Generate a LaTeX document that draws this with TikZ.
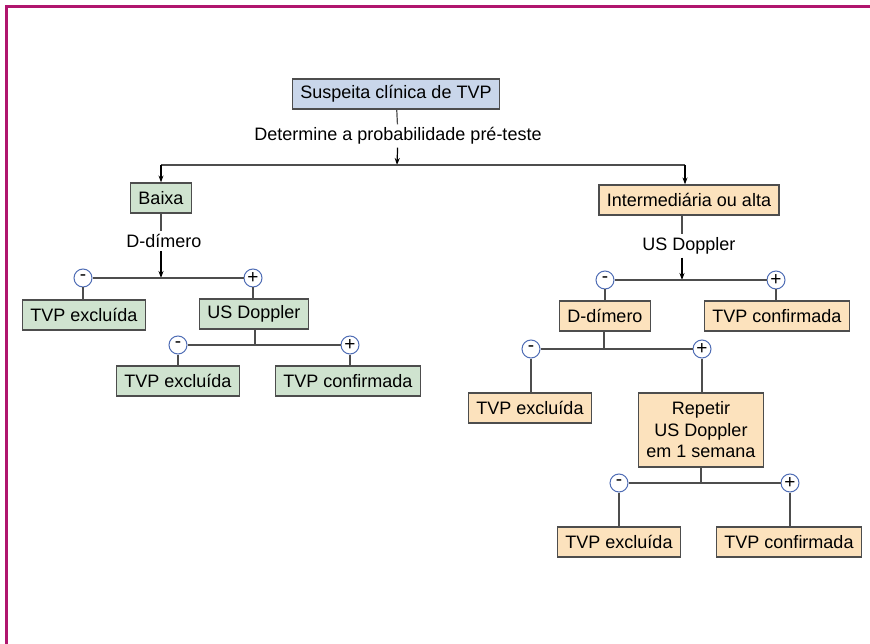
\documentclass[tikz,border=0pt]{standalone}
\usepackage{fontspec}
\setmainfont{Liberation Sans}
\usetikzlibrary{arrows.meta}

\definecolor{frameline}{HTML}{B0166E}
\definecolor{boxline}{HTML}{4D4D4D}
\definecolor{boxblue}{HTML}{C9D6EA}
\definecolor{boxgreen}{HTML}{CFE3CF}
\definecolor{boxpeach}{HTML}{FCE2BD}
\definecolor{signline}{HTML}{4F6DB5}

\tikzset{
  stepbox/.style={draw=boxline, line width=1.2pt, inner xsep=8pt, inner ysep=0pt,
    minimum height=30pt, align=center, font=\fontsize{18}{21.5}\selectfont},
  lowbox/.style={stepbox, fill=boxgreen},
  highbox/.style={stepbox, fill=boxpeach},
  testlabel/.style={inner sep=3pt, font=\fontsize{18}{21.5}\selectfont},
  sign/.style={circle, draw=signline, fill=white, line width=1pt, minimum size=18pt,
    inner sep=0pt, font=\fontsize{19}{19}\selectfont},
  link/.style={draw=boxline, line width=1.2pt},
  down/.style={link, -{Stealth[length=7pt,width=5pt]}, draw=black}
}

\begin{document}
\begin{tikzpicture}[x=1pt, y=-1pt]
\useasboundingbox (0,0) rectangle (870,644);
\draw[frameline, line width=3pt] (6,644) -- (6,7) -- (870,7);

% start
\node[stepbox, fill=boxblue] (suspeita) at (396,94) {Suspeita clínica de TVP};
\node[testlabel] (prob) at (398,136) {Determine a probabilidade pré-teste};
\coordinate (j0) at (397,165);
\coordinate (tl) at (161,165);
\coordinate (tr) at (685,165);
\draw[link] (suspeita) -- (prob);
\draw[down] (prob) -- (j0);
\draw[link] (tl) -- (tr);

% low probability
\node[lowbox] (baixa) at (161,198) {Baixa};
\draw[down] (tl) -- (baixa);
\node[testlabel] (ddimA) at (164,241) {D-dímero};
\coordinate (j1) at (161,278);
\draw[link] (baixa.south -| j1) -- (ddimA.north -| j1);
\draw[down] (ddimA.south -| j1) -- (j1);
\node[sign] (m1) at (83,278) {-};
\node[sign] (p1) at (253,278) {+};
\draw[link] (m1) -- (p1);
\node[lowbox] (excA) at (84,315) {TVP excluída};
\node[lowbox] (usA) at (254,314) {US Doppler};
\draw[link] (m1) -- (m1 |- excA.north);
\draw[link] (p1) -- (p1 |- usA.north);
\coordinate (j2) at (255,345);
\node[sign] (m2) at (178,345) {-};
\node[sign] (p2) at (350,345) {+};
\draw[link] (m2) -- (p2);
\draw[link] (usA.south -| j2) -- (j2);
\node[lowbox] (excB) at (178,381) {TVP excluída};
\node[lowbox] (confB) at (348,381) {TVP confirmada};
\draw[link] (m2) -- (m2 |- excB.north);
\draw[link] (p2) -- (p2 |- confB.north);

% intermediate or high probability
\node[highbox] (inter) at (689,200) {Intermediária ou alta};
\draw[down] (tr) -- (tr |- inter.north);
\node[testlabel] (usLabel) at (689,246) {US Doppler};
\coordinate (j3) at (682,280);
\draw[link] (inter.south -| j3) -- (usLabel.north -| j3);
\draw[down] (usLabel.south -| j3) -- (j3);
\node[sign] (m3) at (605,280) {-};
\node[sign] (p3) at (776,280) {+};
\draw[link] (m3) -- (p3);
\node[highbox] (ddimB) at (605,316) {D-dímero};
\node[highbox] (confC) at (777,316) {TVP confirmada};
\draw[link] (m3) -- (m3 |- ddimB.north);
\draw[link] (p3) -- (p3 |- confC.north);
\coordinate (j4) at (604,349);
\node[sign] (m4) at (531,349) {-};
\node[sign] (p4) at (702,349) {+};
\draw[link] (m4) -- (p4);
\draw[link] (ddimB.south -| j4) -- (j4);
\node[highbox] (excD) at (530,408) {TVP excluída};
\node[highbox, minimum height=74pt] (repetir) at (701,430) {Repetir\\US Doppler\\em 1 semana};
\draw[link] (m4) -- (m4 |- excD.north);
\draw[link] (p4) -- (p4 |- repetir.north);
\coordinate (j5) at (701,483);
\node[sign] (m5) at (619,483) {-};
\node[sign] (p5) at (790,483) {+};
\draw[link] (m5) -- (p5);
\draw[link] (repetir.south -| j5) -- (j5);
\node[highbox] (excE) at (619,542) {TVP excluída};
\node[highbox] (confE) at (789,542) {TVP confirmada};
\draw[link] (m5) -- (m5 |- excE.north);
\draw[link] (p5) -- (p5 |- confE.north);
\end{tikzpicture}
\end{document}
